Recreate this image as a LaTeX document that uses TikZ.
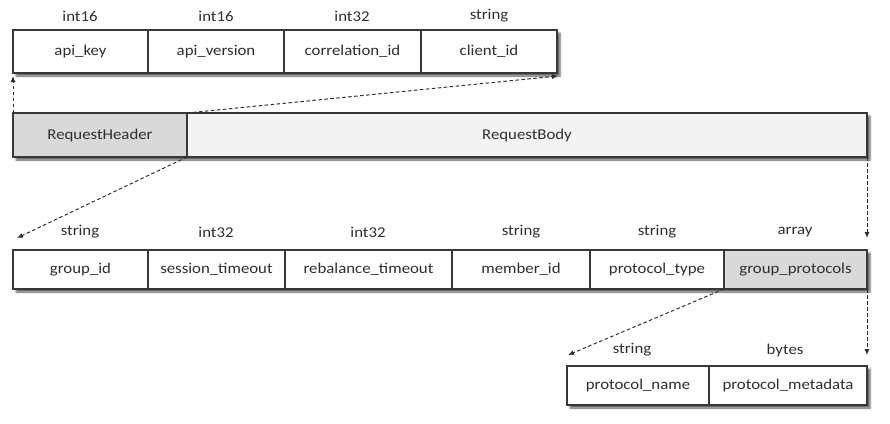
\documentclass[tikz,border=0pt]{standalone}
\usepackage{fontspec}
\setmainfont{Carlito}[FakeStretch=1.12]
\usetikzlibrary{calc,arrows.meta,shadows.blur,backgrounds}
\definecolor{edge}{HTML}{383838}
\definecolor{ink}{HTML}{2F2F2F}
\definecolor{darkfill}{HTML}{D9D9D9}
\definecolor{lightfill}{HTML}{F3F3F3}
\tikzset{
  field/.style={draw=edge, line width=1.2pt, fill=white, anchor=north west,
    inner sep=0pt, outer sep=0pt, text=ink, font=\fontsize{15}{18}\selectfont},
  grey/.style={fill=darkfill},
  pale/.style={fill=lightfill},
  typelabel/.style={text=ink, font=\fontsize{15}{17}\selectfont, inner sep=0pt},
  conn/.style={draw=ink, line width=1pt, dash pattern=on 3.5pt off 2.5pt,
    -{Latex[length=6pt,width=5pt]}},
  rowshadow/.style={fill=white, blur shadow={shadow xshift=3pt, shadow yshift=-3pt,
    shadow blur radius=2pt, shadow opacity=65}}
}
\begin{document}
\begin{tikzpicture}[x=1pt,y=-1pt]
\useasboundingbox (0,0) rectangle (890,423);

% header fields
\node[field, minimum width=135, minimum height=43] (apikey) at (13,30) {api\_key};
\node[field, minimum width=136, minimum height=43] (apiver) at (148,30) {api\_version};
\node[field, minimum width=137, minimum height=43] (corrid) at (284,30) {correlation\_id};
\node[field, minimum width=136, minimum height=43] (clientid) at (421,30) {client\_id};
\node[typelabel] (t-apikey) at (80,16) {int16};
\node[typelabel] (t-apiver) at (216,16) {int16};
\node[typelabel] (t-corrid) at (352,16) {int32};
\node[typelabel] (t-clientid) at (489,16) {string};

% request
\node[field, grey, minimum width=174, minimum height=44] (hdr) at (13,113) {RequestHeader};
\node[field, pale, minimum width=680, minimum height=44] (body) at (187,113) {RequestBody};

% body fields
\node[field, minimum width=135, minimum height=39] (groupid) at (13,250) {group\_id};
\node[field, minimum width=137, minimum height=39] (sesstime) at (148,250) {session\_timeout};
\node[field, minimum width=167, minimum height=39] (rebtime) at (285,250) {rebalance\_timeout};
\node[field, minimum width=138, minimum height=39] (memberid) at (452,250) {member\_id};
\node[field, minimum width=134, minimum height=39] (prottype) at (590,250) {protocol\_type};
\node[field, grey, minimum width=143, minimum height=39] (gprot) at (724,250) {group\_protocols};
\node[typelabel] (t-groupid) at (80,232) {string};
\node[typelabel] (t-sesstime) at (216,232) {int32};
\node[typelabel] (t-rebtime) at (368,232) {int32};
\node[typelabel] (t-memberid) at (521,232) {string};
\node[typelabel] (t-prottype) at (657,232) {string};
\node[typelabel] (t-gprot) at (795,232) {array};

% group protocol fields
\node[field, minimum width=142, minimum height=39] (pname) at (567,366) {protocol\_name};
\node[field, minimum width=158, minimum height=39] (pmeta) at (709,366) {protocol\_metadata};
\node[typelabel] (t-pname) at (632,350) {string};
\node[typelabel] (t-pmeta) at (785,350) {bytes};

% shadows under each row
\begin{pgfonlayer}{background}
  \path[rowshadow] (apikey.north west) rectangle (clientid.south east);
  \path[rowshadow] (hdr.north west) rectangle (body.south east);
  \path[rowshadow] (groupid.north west) rectangle (gprot.south east);
  \path[rowshadow] (pname.north west) rectangle (pmeta.south east);
\end{pgfonlayer}

% arrow ends
\coordinate (apikey-in) at (13,76);
\coordinate (clientid-in) at (558,76);
\coordinate (groupid-in) at (17,238);
\coordinate (gprot-in) at (867,238);
\coordinate (pname-in) at (568,355);
\coordinate (pmeta-in) at (867,355);

\draw[conn] (hdr.north west) -- (apikey-in);
\draw[conn] (hdr.north east) -- (clientid-in);
\draw[conn] (hdr.south east) -- (groupid-in);
\draw[conn] (body.south east) -- (gprot-in);
\draw[conn] (gprot.south west) -- (pname-in);
\draw[conn] (gprot.south east) -- (pmeta-in);
\end{tikzpicture}
\end{document}
